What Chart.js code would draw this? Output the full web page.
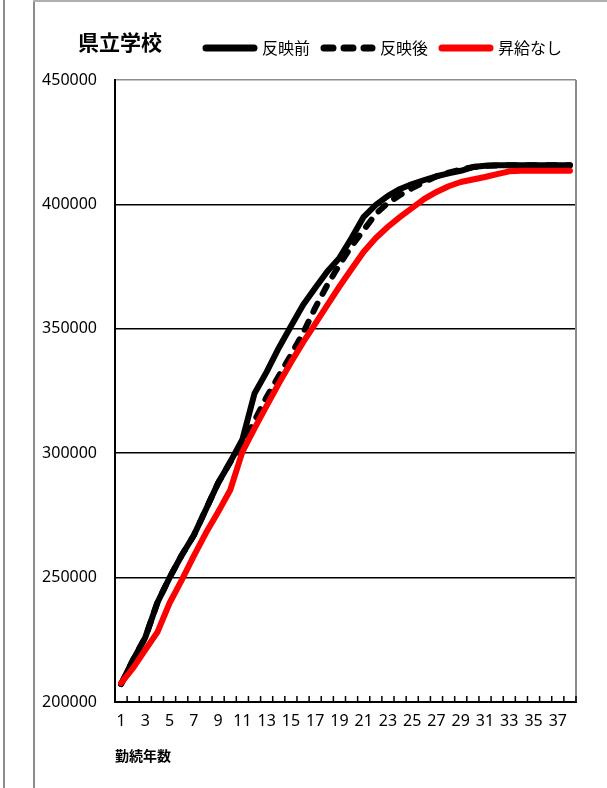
<!DOCTYPE html>
<html>
<head>
<meta charset="utf-8">
<script src="https://cdn.jsdelivr.net/npm/chart.js@4.4.1/dist/chart.umd.min.js"></script>
<style>
  html, body { margin: 0; padding: 0; background: #fff; }
  body { width: 607px; height: 788px; position: relative; overflow: hidden; }
  #wrap { position: absolute; left: 0; top: 0; width: 607px; height: 788px; }
  .vline { position: absolute; top: 0; width: 2px; height: 788px; background: #8c8c8c; }
  .hline { position: absolute; top: 0; left: 33px; width: 574px; height: 2px; background: #b0b0b0; }
  #title { position: absolute; left: 78px; top: 31px; font: bold 21px "Noto Sans CJK JP", sans-serif; color: #000; line-height: 1; }
</style>
</head>
<body>
<div class="vline" style="left:3px"></div>
<div class="vline" style="left:33px"></div>
<div class="hline"></div>
<div id="wrap"><canvas id="c" width="607" height="788"></canvas></div>
<div id="title">県立学校</div>
<script>
const years = ['1','2','3','4','5','6','7','8','9','10','11','12','13','14','15','16','17','18','19','20',
  '21','22','23','24','25','26','27','28','29','30','31','32','33','34','35','36','37','38'];

const seriesNames = ['反映前', '反映後', '昇給なし'];

const beforeValues = [207200, 217000, 226000, 240000, 250000, 259000, 267000, 277500, 288000, 296500,
  305500, 324000, 332700, 342300, 351000, 359600, 366400, 373000, 378500, 386500,
  395000, 399800, 403400, 406200, 408200, 409800, 411300, 412500, 413500, 415000,
  415500, 415700, 415700, 415700, 415700, 415700, 415700, 415700];

const afterValues = [207200, 217000, 226000, 240000, 250000, 259000, 267000, 277500, 288000, 296500,
  303000, 313000, 322600, 331000, 339500, 348300, 358400, 367600, 375700, 383300,
  389700, 396200, 400600, 403800, 406600, 409000, 411300, 412800, 414000, 415000,
  415500, 415700, 415700, 415700, 415700, 415700, 415700, 415700];

const noRaiseValues = [207600, 213700, 221000, 228100, 239800, 249000, 258700, 268000, 276400, 285200,
  300500, 310000, 319000, 328000, 336500, 344500, 352000, 359500, 367000, 374000,
  381000, 386500, 391000, 395000, 398600, 402200, 405000, 407300, 409000, 410000,
  411000, 412200, 413300, 413500, 413500, 413500, 413500, 413500];

const yTicks = [200000, 250000, 300000, 350000, 400000, 450000];

const framePlugin = {
  id: 'frame',
  afterInit(chart) {
    const lg = chart.legend;
    if (lg) {
      const origFit = lg.fit;
      lg.fit = function () { origFit.call(this); this.height += 14; };
    }
  },
  afterDraw(chart) {
    const {ctx, chartArea} = chart;
    const x = chart.scales.x;
    ctx.save();
    ctx.strokeStyle = '#8c8c8c';
    ctx.lineWidth = 2;
    ctx.beginPath();
    ctx.moveTo(chartArea.right, chartArea.top);
    ctx.lineTo(chartArea.right, chartArea.bottom);
    ctx.stroke();
    ctx.strokeStyle = '#000';
    ctx.lineWidth = 1.5;
    ctx.beginPath();
    for (let i = 0; i <= years.length; i++) {
      const px = x.getPixelForValue(i - 0.5);
      ctx.moveTo(px, chartArea.bottom);
      ctx.lineTo(px, chartArea.bottom - 6);
    }
    ctx.stroke();
    ctx.restore();
  }
};

new Chart(document.getElementById('c'), {
  type: 'line',
  data: {
    labels: years,
    datasets: [
      { label: seriesNames[0], data: beforeValues, borderColor: '#000', backgroundColor: '#000',
        borderWidth: 6, order: 3, borderCapStyle: 'round', borderJoinStyle: 'round' },
      { label: seriesNames[1], data: afterValues, borderColor: '#000', backgroundColor: '#000',
        borderWidth: 6, borderDash: [9, 11], order: 2, borderCapStyle: 'round', borderJoinStyle: 'round' },
      { label: seriesNames[2], data: noRaiseValues, borderColor: '#ff0000', backgroundColor: '#ff0000',
        borderWidth: 6, order: 1, borderCapStyle: 'round', borderJoinStyle: 'round' }
    ]
  },
  options: {
    responsive: false,
    animation: false,
    layout: { padding: { left: 0, right: 31, top: 26, bottom: 0 } },
    elements: { point: { radius: 0 }, line: { tension: 0 } },
    plugins: {
      tooltip: { enabled: false },
      legend: {
        position: 'top',
        align: 'end',
        labels: {
          usePointStyle: true,
          pointStyle: 'line',
          pointStyleWidth: 48,
          boxHeight: 16,
          padding: 14,
          color: '#000',
          font: { family: '"Noto Sans CJK JP", sans-serif', size: 16 },
          sort: (a, b) => a.datasetIndex - b.datasetIndex,
          generateLabels(chart) {
            const items = Chart.defaults.plugins.legend.labels.generateLabels(chart);
            items.forEach(it => {
              const ds = chart.data.datasets[it.datasetIndex];
              it.lineDash = ds.borderDash || [];
              it.lineCap = 'round';
              it.lineWidth = 7;
              it.strokeStyle = ds.borderColor;
              it.pointStyle = 'line';
            });
            return items;
          }
        }
      }
    },
    scales: {
      x: {
        type: 'category',
        offset: true,
        afterFit(scale) { scale.height = 86; },
        grid: { display: true, drawOnChartArea: false, drawTicks: false, offset: true },
        border: { display: true, color: '#000', width: 2 },
        ticks: {
          autoSkip: false,
          maxRotation: 0,
          minRotation: 0,
          padding: 10,
          color: '#000',
          font: { family: '"Noto Sans", sans-serif', size: 16 },
          callback: (v, i) => (i % 2 === 0 ? years[i] : '')
        },
        title: {
          display: true,
          text: '勤続年数',
          align: 'start',
          color: '#000',
          font: { family: '"Noto Sans CJK JP", sans-serif', size: 14, weight: 'bold' },
          padding: { top: 0, bottom: 24 }
        }
      },
      y: {
        min: yTicks[0],
        max: yTicks[yTicks.length - 1],
        afterFit(scale) { scale.width = 115; },
        afterBuildTicks(scale) { scale.ticks = yTicks.map(v => ({ value: v })); },
        grid: {
          drawTicks: false,
          lineWidth: 1.5,
          color: (c) => (c.tick && c.tick.value === 450000 ? '#8c8c8c' : '#000')
        },
        border: { display: true, color: '#000', width: 2 },
        ticks: {
          padding: 18,
          color: '#000',
          font: { family: '"Noto Sans", sans-serif', size: 16 },
          callback: (v) => String(v)
        }
      }
    }
  },
  plugins: [framePlugin]
});
</script>
</body>
</html>
